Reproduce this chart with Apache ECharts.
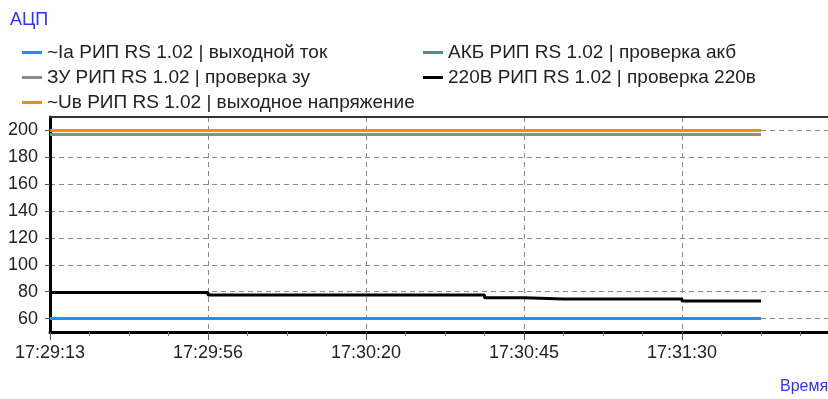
<!DOCTYPE html>
<html>
<head>
<meta charset="utf-8">
<script src="https://cdn.jsdelivr.net/npm/echarts@6/dist/echarts.min.js"></script>
<style>
  html, body { margin: 0; padding: 0; background: #fff; }
  #chart { width: 828px; height: 399px; }
</style>
</head>
<body>
<div id="chart"></div>
<script>
// Sample timestamps shown under every 4th sample
const timeLabels = ['17:29:13', '17:29:56', '17:30:20', '17:30:45', '17:31:30'];

// Series names (legend order: left column, right column)
const names = [
  '~Ia РИП RS 1.02 | выходной ток',
  'АКБ РИП RS 1.02 | проверка акб',
  'ЗУ РИП RS 1.02 | проверка зу',
  '220В РИП RS 1.02 | проверка 220в',
  '~Uв РИП RS 1.02 | выходное напряжение'
];

// Sample values, one per sample index 0..18
const ia   = [60, 60, 60, 60, 60, 60, 60, 60, 60, 60, 60, 60, 60, 60, 60, 60, 60, 60, 60];
const akb  = [197, 197, 197, 197, 197, 197, 197, 197, 197, 197, 197, 197, 197, 197, 197, 197, 197, 197, 197];
const zu   = [197, 197, 197, 197, 197, 197, 197, 197, 197, 197, 197, 197, 197, 197, 197, 197, 197, 197, 197];
const v220 = [79.4, 79.4, 79.4, 79.4, 77.5, 77.5, 77.5, 77.5, 77.5, 77.5, 77.5, 75.5, 74.5, 74.5, 74.5, 74.5, 73, 73, 73];
const uv   = [200, 200, 200, 200, 200, 200, 200, 200, 200, 200, 200, 200, 200, 200, 200, 200, 200, 200, 200];

const values = [ia, akb, zu, v220, uv];
const colors = ['#1e8fff', '#4f8f8a', '#8c8c8c', '#000000', '#ff8c00'];

const FONT = "'Liberation Sans', Arial, sans-serif";
const textColor = '#222';

const chart = echarts.init(document.getElementById('chart'), null, { renderer: 'canvas' });

const series = values.map((vals, i) => ({
  name: names[i],
  type: 'line',
  step: 'end',
  showSymbol: false,
  symbol: 'none',
  animation: false,
  data: vals.map((v, k) => [k, v]),
  lineStyle: { color: colors[i], width: 3 },
  itemStyle: { color: colors[i] },
  z: 3 + i
}));

const legendCommon = {
  orient: 'vertical',
  icon: 'rect',
  itemWidth: 20,
  itemHeight: 3,
  itemGap: 6,
  textStyle: { fontFamily: FONT, fontSize: 19, color: textColor, lineHeight: 19 },
  selectedMode: false
};

chart.setOption({
  animation: false,
  color: colors,
  title: {
    text: 'АЦП',
    left: 10,
    top: 11,
    padding: 0,
    textStyle: { fontFamily: FONT, fontSize: 18, fontWeight: 'normal', color: '#3030ff' }
  },
  legend: [
    Object.assign({}, legendCommon, { left: 22, top: 43, padding: 0, data: [names[0], names[2], names[4]] }),
    Object.assign({}, legendCommon, { left: 423, top: 43, padding: 0, data: [names[1], names[3]] })
  ],
  grid: { left: 50, right: -12, top: 117, bottom: 67, containLabel: false, outerBoundsMode: 'none' },
  xAxis: [
    {
      type: 'value',
      min: 0,
      max: 20,
      interval: 4,
      axisLine: { show: true, onZero: false, lineStyle: { color: '#000', width: 3 } },
      axisTick: { show: true, length: 8, lineStyle: { color: '#555', width: 1 } },
      minorTick: { show: true, splitNumber: 4, length: 4, lineStyle: { color: '#777', width: 1 } },
      axisLabel: {
        margin: 12,
        fontFamily: FONT,
        fontSize: 18,
        color: textColor,
        formatter: v => timeLabels[Math.round(v / 4)] || ''
      },
      splitLine: { show: true, lineStyle: { color: '#8a8a8a', width: 1, type: [5, 4] } }
    },
    {
      type: 'value',
      position: 'top',
      min: 0,
      max: 20,
      axisLine: { show: true, lineStyle: { color: '#333', width: 2 } },
      axisTick: { show: false },
      axisLabel: { show: false },
      splitLine: { show: false }
    }
  ],
  yAxis: {
    type: 'value',
    min: 50,
    max: 210,
    splitNumber: 8,
    axisLine: { show: true, onZero: false, lineStyle: { color: '#000', width: 3 } },
    axisTick: { show: true, length: 5, lineStyle: { color: '#555' } },
    axisLabel: {
      margin: 12,
      fontFamily: FONT,
      fontSize: 18,
      color: textColor,
      showMinLabel: false,
      showMaxLabel: false,
      formatter: v => (v % 20 === 0 ? String(v) : '')
    },
    splitLine: { show: true, lineStyle: { color: '#8a8a8a', width: 1, type: [5, 4] } }
  },
  graphic: [
    {
      type: 'text',
      left: 780,
      top: 379,
      style: { text: 'Время', font: '16px ' + FONT, fill: '#3030ff' }
    }
  ],
  series: series
});
</script>
</body>
</html>
